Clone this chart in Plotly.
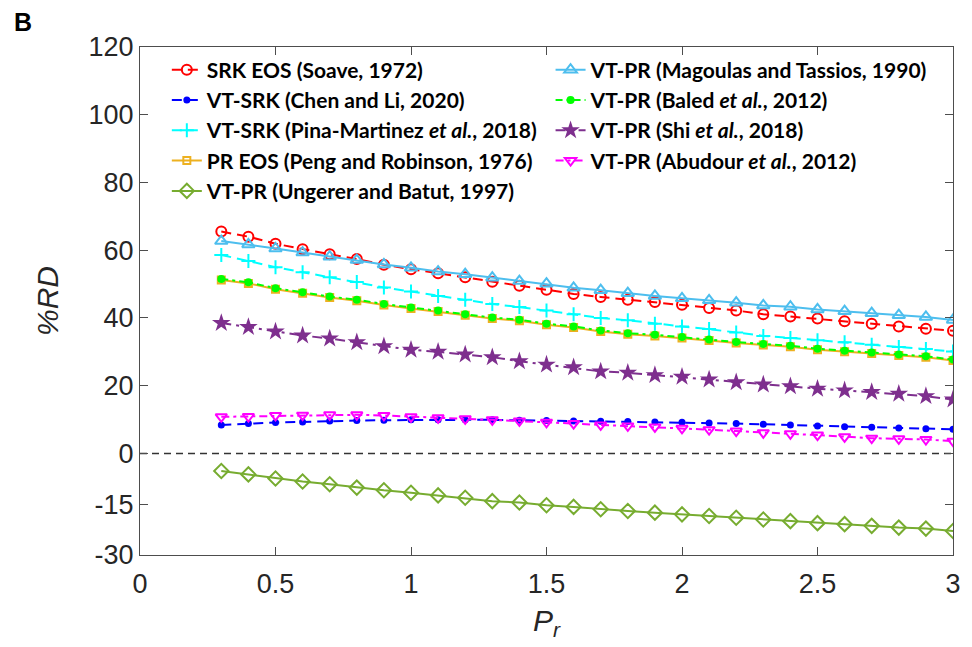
import plotly.graph_objects as go

pr = [0.3, 0.4, 0.5, 0.6, 0.7, 0.8, 0.9, 1.0, 1.1, 1.2, 1.3, 1.4, 1.5, 1.6,
      1.7, 1.8, 1.9, 2.0, 2.1, 2.2, 2.3, 2.4, 2.5, 2.6, 2.7, 2.8, 2.9, 3.0]

srk_soave = [65.5, 64.0, 61.9, 60.3, 58.8, 57.4, 55.7, 54.4, 53.2, 52.0, 50.7, 49.5, 48.3, 47.1,
             46.2, 45.4, 44.7, 43.9, 42.9, 42.2, 41.1, 40.4, 39.8, 39.0, 38.3, 37.5, 36.8, 36.2]
vtsrk_chen = [8.4, 8.8, 9.1, 9.3, 9.6, 9.7, 9.8, 9.9, 9.9, 9.9, 9.9, 9.8, 9.7, 9.6,
              9.5, 9.4, 9.3, 9.2, 9.0, 8.8, 8.6, 8.4, 8.1, 7.9, 7.7, 7.5, 7.3, 7.1]
vtsrk_pina = [58.6, 56.8, 55.0, 53.5, 52.0, 50.6, 49.0, 47.8, 46.5, 45.4, 44.1, 43.2, 42.2, 41.1,
              40.0, 39.3, 38.3, 37.5, 36.7, 35.7, 34.7, 34.1, 33.4, 32.8, 32.1, 31.4, 30.8, 30.1]
pr_peng = [51.2, 50.2, 48.5, 47.3, 46.0, 45.1, 43.8, 42.8, 41.9, 40.8, 39.8, 39.2, 38.0, 37.2,
           36.0, 35.2, 34.7, 34.1, 33.3, 32.6, 32.0, 31.5, 30.6, 30.0, 29.5, 28.9, 28.4, 27.4]
vtpr_ungerer = [-5.2, -6.2, -7.4, -8.3, -9.1, -10.1, -10.9, -11.6, -12.4, -13.1, -14.1, -14.5, -15.3, -15.8,
                -16.5, -17.0, -17.5, -18.0, -18.5, -19.0, -19.5, -20.0, -20.6, -20.9, -21.4, -21.9, -22.2, -22.9]
vtpr_magoulas = [62.7, 61.7, 60.5, 59.3, 58.1, 57.1, 55.8, 54.8, 53.7, 52.9, 51.9, 50.9, 50.1, 48.9,
                 48.2, 47.3, 46.5, 45.8, 45.2, 44.5, 43.7, 43.3, 42.5, 42.0, 41.4, 40.8, 40.3, 39.4]
vtpr_baled = [51.5, 50.5, 48.8, 47.6, 46.3, 45.4, 44.1, 43.1, 42.2, 41.1, 40.1, 39.5, 38.3, 37.5,
              36.3, 35.5, 35.0, 34.4, 33.6, 32.9, 32.3, 31.8, 30.9, 30.3, 29.8, 29.2, 28.7, 27.7]
vtpr_shi = [38.5, 37.3, 36.0, 34.8, 33.9, 32.8, 31.6, 30.6, 30.0, 29.2, 28.4, 27.2, 26.2, 25.4,
            24.2, 23.8, 23.1, 22.6, 21.8, 21.0, 20.3, 19.8, 19.1, 18.6, 18.1, 17.6, 16.9, 15.9]
vtpr_abudour = [10.8, 10.9, 11.2, 11.3, 11.4, 11.4, 11.2, 10.8, 10.5, 10.2, 9.9, 9.6, 9.2, 8.8,
                8.4, 8.1, 7.8, 7.4, 7.0, 6.6, 6.1, 5.8, 5.4, 4.9, 4.5, 4.3, 4.1, 3.6]

x_tickvals = [0, 0.5, 1, 1.5, 2, 2.5, 3]
x_ticktext = ["0", "0.5", "1", "1.5", "2", "2.5", "3"]
y_tickvals = [-30, -15, 0, 20, 40, 60, 80, 100, 120]
y_ticktext = ["-30", "-15", "0", "20", "40", "60", "80", "100", "120"]

names = ["SRK EOS (Soave, 1972)",
         "VT-SRK (Chen and Li, 2020)",
         "VT-SRK (Pina-Martinez <i>et al.</i>, 2018)",
         "PR EOS (Peng and Robinson, 1976)",
         "VT-PR (Ungerer and Batut, 1997)",
         "VT-PR (Magoulas and Tassios, 1990)",
         "VT-PR (Baled <i>et al.</i>, 2012)",
         "VT-PR (Shi <i>et al.</i>, 2018)",
         "VT-PR (Abudour <i>et al.</i>, 2012)"]
series = [srk_soave, vtsrk_chen, vtsrk_pina, pr_peng, vtpr_ungerer,
          vtpr_magoulas, vtpr_baled, vtpr_shi, vtpr_abudour]
colors = ["#FF0000", "#0000FF", "#00FFFF", "#EDB120", "#77AC30",
          "#4DBEEE", "#00FF00", "#7E2F8E", "#FF00FF"]
symbols = ["circle-open", "circle", "cross-thin-open", "square-open", "diamond-open",
           "triangle-up-open", "circle", "star", "triangle-down-open"]
msizes = [10, 7, 10, 7, 11, 11, 8, 14, 10]
dashes = ["10px,6px", "10px,6px", "10px,6px", "solid", "solid",
          "solid", "7px,4px,3px,4px", "10px,5px,3px,5px", "8px,4px,3px,4px"]
legends = ["legend"] * 5 + ["legend2"] * 4

fig = go.Figure()
for i in range(len(series)):
    sym = symbols[i]
    filled = not sym.endswith("open")
    fig.add_trace(go.Scatter(
        x=pr, y=series[i], name=names[i], mode="lines+markers",
        legend=legends[i], legendgroup=f"g{i}",
        line=dict(color=colors[i], width=2, dash=dashes[i]),
        marker=dict(symbol=sym, size=msizes[i], color=colors[i],
                    line=dict(color=colors[i], width=0 if filled else 2)),
    ))

fig.add_shape(type="line", xref="paper", yref="y", x0=0, x1=1, y0=0, y1=0,
              line=dict(color="#333333", width=1.5, dash="7px,5px"), layer="below")

axis_common = dict(showline=True, linecolor="#4d4d4d", linewidth=1.3, mirror="ticks",
                   ticks="inside", ticklen=8, tickcolor="#4d4d4d", tickwidth=1.3,
                   showgrid=False, zeroline=False,
                   tickfont=dict(family="Liberation Sans", size=27, color="#262626"))

fig.update_xaxes(range=[0, 3], tickvals=x_tickvals, ticktext=x_ticktext, ticklabelstandoff=4,
                 title=dict(text="<i>P</i><sub><i>r</i></sub>", standoff=12,
                            font=dict(family="Liberation Sans", size=30, color="#262626")),
                 **axis_common)
fig.update_yaxes(range=[-30, 120], tickvals=y_tickvals, ticktext=y_ticktext,
                 title=dict(text="<i>%RD</i>", standoff=20,
                            font=dict(family="Liberation Sans", size=30, color="#262626")),
                 **axis_common)

leg_font = dict(family="Lato", size=21, color="#000000", weight="bold")
fig.update_layout(
    width=972, height=647,
    margin=dict(l=140, r=11, t=47, b=92),
    paper_bgcolor="white", plot_bgcolor="white",
    showlegend=True,
    legend=dict(x=0.033, y=0.995, xanchor="left", yanchor="top", bgcolor="rgba(0,0,0,0)",
                font=leg_font, tracegroupgap=0, itemwidth=30),
    legend2=dict(x=0.505, y=0.995, xanchor="left", yanchor="top", bgcolor="rgba(0,0,0,0)",
                 font=leg_font, tracegroupgap=0, itemwidth=30),
    annotations=[dict(text="<b>B</b>", xref="paper", yref="paper", x=-0.158, y=1.08,
                      xanchor="left", yanchor="top", showarrow=False,
                      font=dict(family="Liberation Sans", size=25, color="#000000"))],
)

fig.write_html("out.html")
